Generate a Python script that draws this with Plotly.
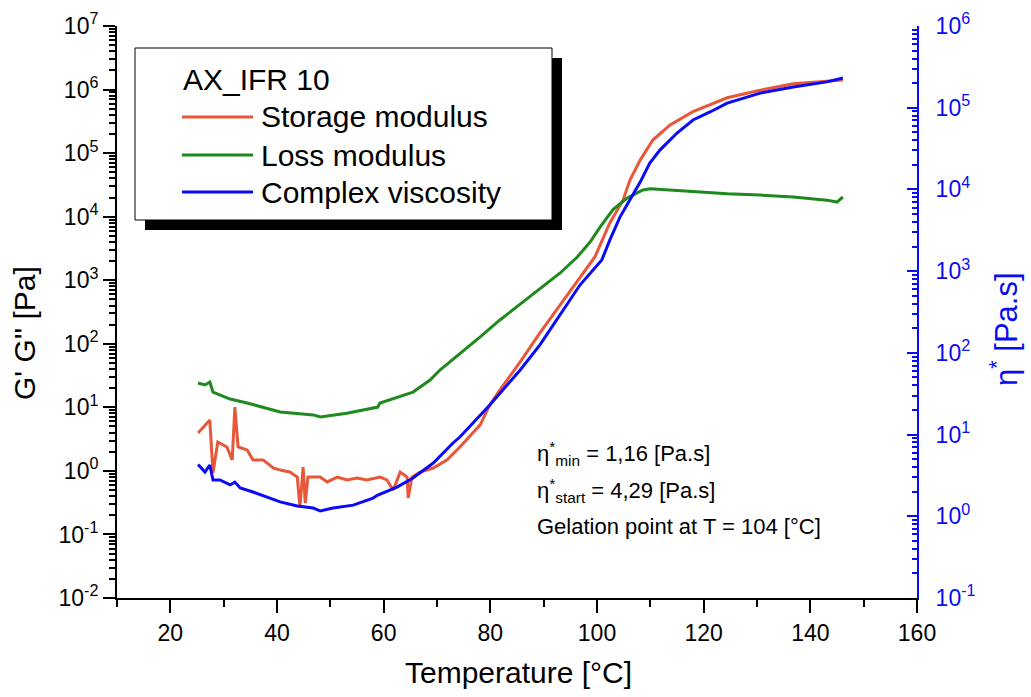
import plotly.graph_objects as go

# ---- measured data: temperature sweep of AX_IFR 10 ----
temp_storage = [25.2, 27.4, 28.0, 28.9, 30.6, 31.6, 32.1, 32.7, 34.4, 35.5,
                37.4, 39.3, 40.6, 42.4, 43.8, 44.3, 44.9, 45.3, 45.8, 48.1,
                49.4, 51.3, 53.1, 55.0, 56.9, 59.3, 60.6, 61.8, 63.1, 64.4,
                64.6, 65.3, 66.8, 69.3, 71.9, 74.3, 78.1, 79.9, 81.8, 85.6,
                89.3, 93.1, 96.3, 99.6, 102.4, 104.9, 106.2, 108.1, 110.5, 113.7,
                118.0, 124.4, 130.6, 136.8, 146.1]
storage_modulus = [3.95, 6.3, 0.93, 2.85, 2.38, 1.49, 10.1, 2.38, 2.13, 1.49,
                   1.49, 1.11, 1.03, 0.96, 0.80, 0.27, 1.15, 0.31, 0.80, 0.80,
                   0.67, 0.80, 0.72, 0.77, 0.72, 0.80, 0.72, 0.50, 0.96, 0.80,
                   0.375, 0.80, 0.96, 1.11, 1.49, 2.38, 5.3, 10.9, 18.8, 51.8,
                   148, 408, 935, 2320, 7950, 18300, 38000, 77600, 162000, 277000,
                   448000, 742000, 977000, 1230000, 1410000]

temp_loss = [25.2, 26.5, 27.4, 28.0, 31.2, 34.4, 40.6, 46.8, 48.1, 53.1,
             58.9, 59.3, 65.5, 68.7, 70.6, 74.3, 78.1, 81.8, 85.6, 89.3,
             93.1, 96.3, 98.7, 100.6, 103.0, 105.6, 108.6, 110.0, 118.0, 124.4,
             130.6, 136.8, 143.1, 145.0, 146.1]
loss_modulus = [24.2, 22.5, 25.0, 17.4, 13.5, 11.7, 8.45, 7.6, 7.05, 8.1,
                10.1, 11.7, 17.4, 26.9, 39, 69, 128, 237, 423, 728,
                1300, 2320, 3980, 6890, 12900, 19500, 26300, 27500, 24500, 22900,
                21900, 20400, 18200, 17000, 20400]

temp_visc = [25.2, 26.5, 27.4, 28.0, 29.3, 31.2, 32.1, 33.1, 35.5, 38.1,
             40.6, 43.8, 46.8, 48.1, 50.5, 54.3, 58.0, 58.9, 62.5, 65.5,
             69.3, 73.0, 74.3, 79.9, 85.6, 89.3, 93.1, 96.8, 100.9, 102.4,
             104.3, 106.2, 108.1, 109.9, 111.8, 115.0, 118.0, 121.2, 124.4, 130.6,
             136.8, 143.1, 146.1]
complex_viscosity = [4.29, 3.48, 4.24, 2.78, 2.78, 2.42, 2.62, 2.22, 1.98, 1.72,
                     1.50, 1.34, 1.26, 1.16, 1.26, 1.37, 1.67, 1.82, 2.28, 2.94,
                     4.49, 7.89, 9.33, 23.0, 61.7, 125, 290, 676, 1370, 2400,
                     4590, 7410, 12300, 21000, 30300, 49000, 70800, 88700, 114000, 151000,
                     179000, 207000, 231000]

series_names = ["Storage modulus", "Loss modulus", "Complex viscosity"]
sample_name = "AX_IFR 10"
notes = ["\u03b7<sup>*</sup><sub>min</sub> = 1,16 [Pa.s]",
         "\u03b7<sup>*</sup><sub>start</sub> = 4,29 [Pa.s]",
         "Gelation point at T = 104 [\u00b0C]"]

x_ticks = [20, 40, 60, 80, 100, 120, 140, 160]
x_minor = [10, 30, 50, 70, 90, 110, 130, 150]
left_exp = [-2, -1, 0, 1, 2, 3, 4, 5, 6, 7]
right_exp = [-1, 0, 1, 2, 3, 4, 5, 6]

# ---- styling ----
FONT = "Liberation Sans, Arial, sans-serif"
RED, GREEN, BLUE = "#E8573A", "#1E8A1E", "#0A0AF5"
W, H = 1031, 697
L, R, T, B = 117, 114, 26, 99
PW, PH = W - L - R, H - T - B


def px(x):
    return (x - L) / PW


def py(y):
    return (H - B - y) / PH


def minor_vals(exps):
    return [m * 10.0 ** e for e in exps[:-1] for m in range(2, 10)]


def label(fig, text, x, y, size, color="black", xanchor="center", angle=0):
    fig.add_annotation(text=text, xref="paper", yref="paper",
                       x=px(x), y=py(y), xanchor=xanchor, yanchor="middle",
                       showarrow=False, textangle=angle,
                       font=dict(size=size, family=FONT, color=color))


fig = go.Figure()
fig.add_trace(go.Scatter(x=temp_storage, y=storage_modulus, mode="lines",
                         line=dict(color=RED, width=3), name=series_names[0]))
fig.add_trace(go.Scatter(x=temp_loss, y=loss_modulus, mode="lines",
                         line=dict(color=GREEN, width=3), name=series_names[1]))
fig.add_trace(go.Scatter(x=temp_visc, y=complex_viscosity, mode="lines",
                         line=dict(color=BLUE, width=3), name=series_names[2],
                         yaxis="y2"))

fig.update_layout(
    template="none",
    width=W, height=H,
    margin=dict(l=L, r=R, t=T, b=B, autoexpand=False),
    paper_bgcolor="white", plot_bgcolor="white",
    showlegend=False,
    font=dict(family=FONT, color="black"),
    xaxis=dict(
        range=[10, 160], showgrid=False, zeroline=False,
        showline=True, linecolor="black", linewidth=2,
        tickmode="array", tickvals=x_ticks, ticktext=[str(v) for v in x_ticks],
        ticks="outside", ticklen=13, tickwidth=2, tickcolor="black",
        tickfont=dict(size=23, family=FONT, color="black"),
        minor=dict(tickmode="array", tickvals=x_minor, ticks="outside",
                   ticklen=7, tickwidth=2, tickcolor="black", showgrid=False),
        automargin=False,
    ),
    yaxis=dict(
        type="log", range=[-2, 7], showgrid=False, zeroline=False,
        showline=True, linecolor="black", linewidth=2,
        tickmode="array", tickvals=[10.0 ** e for e in left_exp],
        ticktext=["10<sup>%d</sup>" % e for e in left_exp],
        ticks="outside", ticklen=12, tickwidth=2, tickcolor="black",
        tickfont=dict(size=23, family=FONT, color="black"),
        minor=dict(tickmode="array", tickvals=minor_vals(left_exp),
                   ticks="outside", ticklen=6, tickwidth=1.5,
                   tickcolor="black", showgrid=False),
        automargin=False,
    ),
    yaxis2=dict(
        type="log", range=[-1, 6], overlaying="y", side="right",
        showgrid=False, zeroline=False,
        showline=True, linecolor=BLUE, linewidth=2,
        tickmode="array", tickvals=[10.0 ** e for e in right_exp],
        ticktext=["10<sup>%d</sup>" % e for e in right_exp],
        ticks="inside", ticklen=10, tickwidth=2, tickcolor=BLUE,
        ticklabelstandoff=12,
        tickfont=dict(size=23, family=FONT, color=BLUE),
        minor=dict(tickmode="array", tickvals=minor_vals(right_exp),
                   ticks="inside", ticklen=5, tickwidth=1.5,
                   tickcolor=BLUE, showgrid=False),
        automargin=False,
    ),
)

# axis titles
label(fig, "Temperature [\u00b0C]", 518, 672, 30)
label(fig, "G' G'' [Pa]", 24, 333, 30, angle=-90)
label(fig, "\u03b7<sup>*</sup> [Pa.s]", 1004, 329, 31, color=BLUE, angle=-90)

# legend box with drop shadow
fig.add_shape(type="rect", xref="paper", yref="paper",
              x0=px(145), x1=px(562), y0=py(230), y1=py(58),
              fillcolor="black", line=dict(width=0), layer="above")
fig.add_shape(type="rect", xref="paper", yref="paper",
              x0=px(135), x1=px(552), y0=py(220), y1=py(48),
              fillcolor="white", line=dict(color="black", width=1), layer="above")
label(fig, sample_name, 181, 80, 30, xanchor="left")
row_y = [117, 155, 192]
for name, color, yy in zip(series_names, [RED, GREEN, BLUE], row_y):
    fig.add_shape(type="line", xref="paper", yref="paper",
                  x0=px(182), x1=px(253), y0=py(yy), y1=py(yy),
                  line=dict(color=color, width=3), layer="above")
    label(fig, name, 259, yy, 30, xanchor="left")

# parameter notes
for txt, yy in zip(notes, [453, 490, 526]):
    label(fig, txt, 535, yy, 22, xanchor="left")

fig.write_html("out.html")
